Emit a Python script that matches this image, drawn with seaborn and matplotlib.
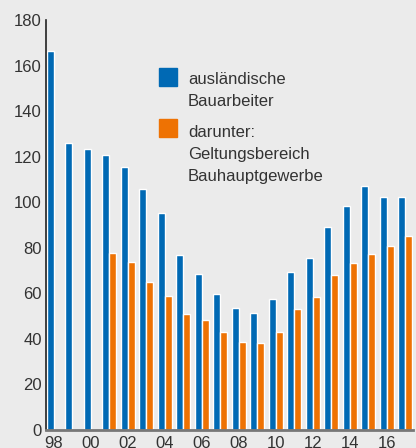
import seaborn as sns
import matplotlib.pyplot as plt
import pandas as pd
import numpy as np
from matplotlib.patches import Rectangle

years = list(range(1998, 2018))
year_labels = ['98', '00', '02', '04', '06', '08', '10', '12', '14', '16']
auslaender = [166.4, 126.0, 123.4, 120.7, 115.5, 105.8, 95.3, 76.8, 68.5, 59.7,
              53.6, 51.4, 57.5, 69.4, 75.5, 89.1, 98.3, 107.1, 102.3, 102.3]
bauhaupt = [np.nan, np.nan, np.nan, 77.7, 73.7, 65.0, 58.8, 50.9, 48.3, 43.0,
            38.6, 38.2, 43.0, 53.1, 58.4, 68.0, 73.3, 77.3, 80.8, 85.2]

legend_1 = ['ausländische', 'Bauarbeiter']
legend_2 = ['darunter:', 'Geltungsbereich', 'Bauhauptgewerbe']
colors = ['#0069B4', '#EE7203']

df = pd.DataFrame({
    'Jahr': [str(y) for y in years] * 2,
    'Wert': auslaender + bauhaupt,
    'Reihe': ['a'] * len(years) + ['b'] * len(years),
})

sns.set_style('white')
plt.rcParams['font.family'] = ['Liberation Sans', 'DejaVu Sans']

bg = '#EBEBEB'
W, H = 416, 448
fig = plt.figure(figsize=(W / 100, H / 100), dpi=100, facecolor=bg)
ax = fig.add_axes([46 / W, 1 - 430 / H, 367 / W, 410 / H])
ax.set_facecolor(bg)

sns.barplot(data=df, x='Jahr', y='Wert', hue='Reihe', palette=colors,
            width=0.76, gap=0, saturation=1, legend=False, ax=ax)

ax.set_xlim(-0.43, len(years) - 0.57)
ax.set_ylim(0, 180)
ax.set_yticks(range(0, 181, 20))
ax.set_xticks(range(0, len(years), 2))
ax.set_xticklabels(year_labels)
ax.set_xticks(np.arange(0.5, len(years) - 1, 1), minor=True)
ax.set_xlabel('')
ax.set_ylabel('')

ax.tick_params(axis='x', which='major', length=0, pad=4, labelsize=12, labelcolor='#333333')
ax.tick_params(axis='x', which='minor', direction='in', length=5, width=1, color='#666666')
ax.tick_params(axis='y', direction='in', length=4, width=1.5, color='#222222',
               labelsize=12, labelcolor='#333333', pad=3)
top_tick = ax.yaxis.get_major_ticks()[-1]
top_tick.tick1line.set_markersize(9)
top_tick.tick1line.set_markeredgewidth(3)

for side in ['top', 'right']:
    ax.spines[side].set_visible(False)
ax.spines['left'].set_color('#222222')
ax.spines['left'].set_linewidth(1.2)
ax.spines['bottom'].set_color('#777777')
ax.spines['bottom'].set_linewidth(2)

# legend drawn by hand: square aligned to the first text line
def legend_entry(color, lines, box_top, first_base):
    fig.patches.append(Rectangle((159 / W, 1 - (box_top + 18) / H), 18 / W, 18 / H,
                                 transform=fig.transFigure, color=color))
    for i, line in enumerate(lines):
        fig.text(188 / W, 1 - (first_base + 22 * i) / H, line, fontsize=12,
                 color='#333333', va='baseline', ha='left')

legend_entry(colors[0], legend_1, 68, 84)
legend_entry(colors[1], legend_2, 119, 137)

plt.savefig('out.png', dpi=100, facecolor=bg)
